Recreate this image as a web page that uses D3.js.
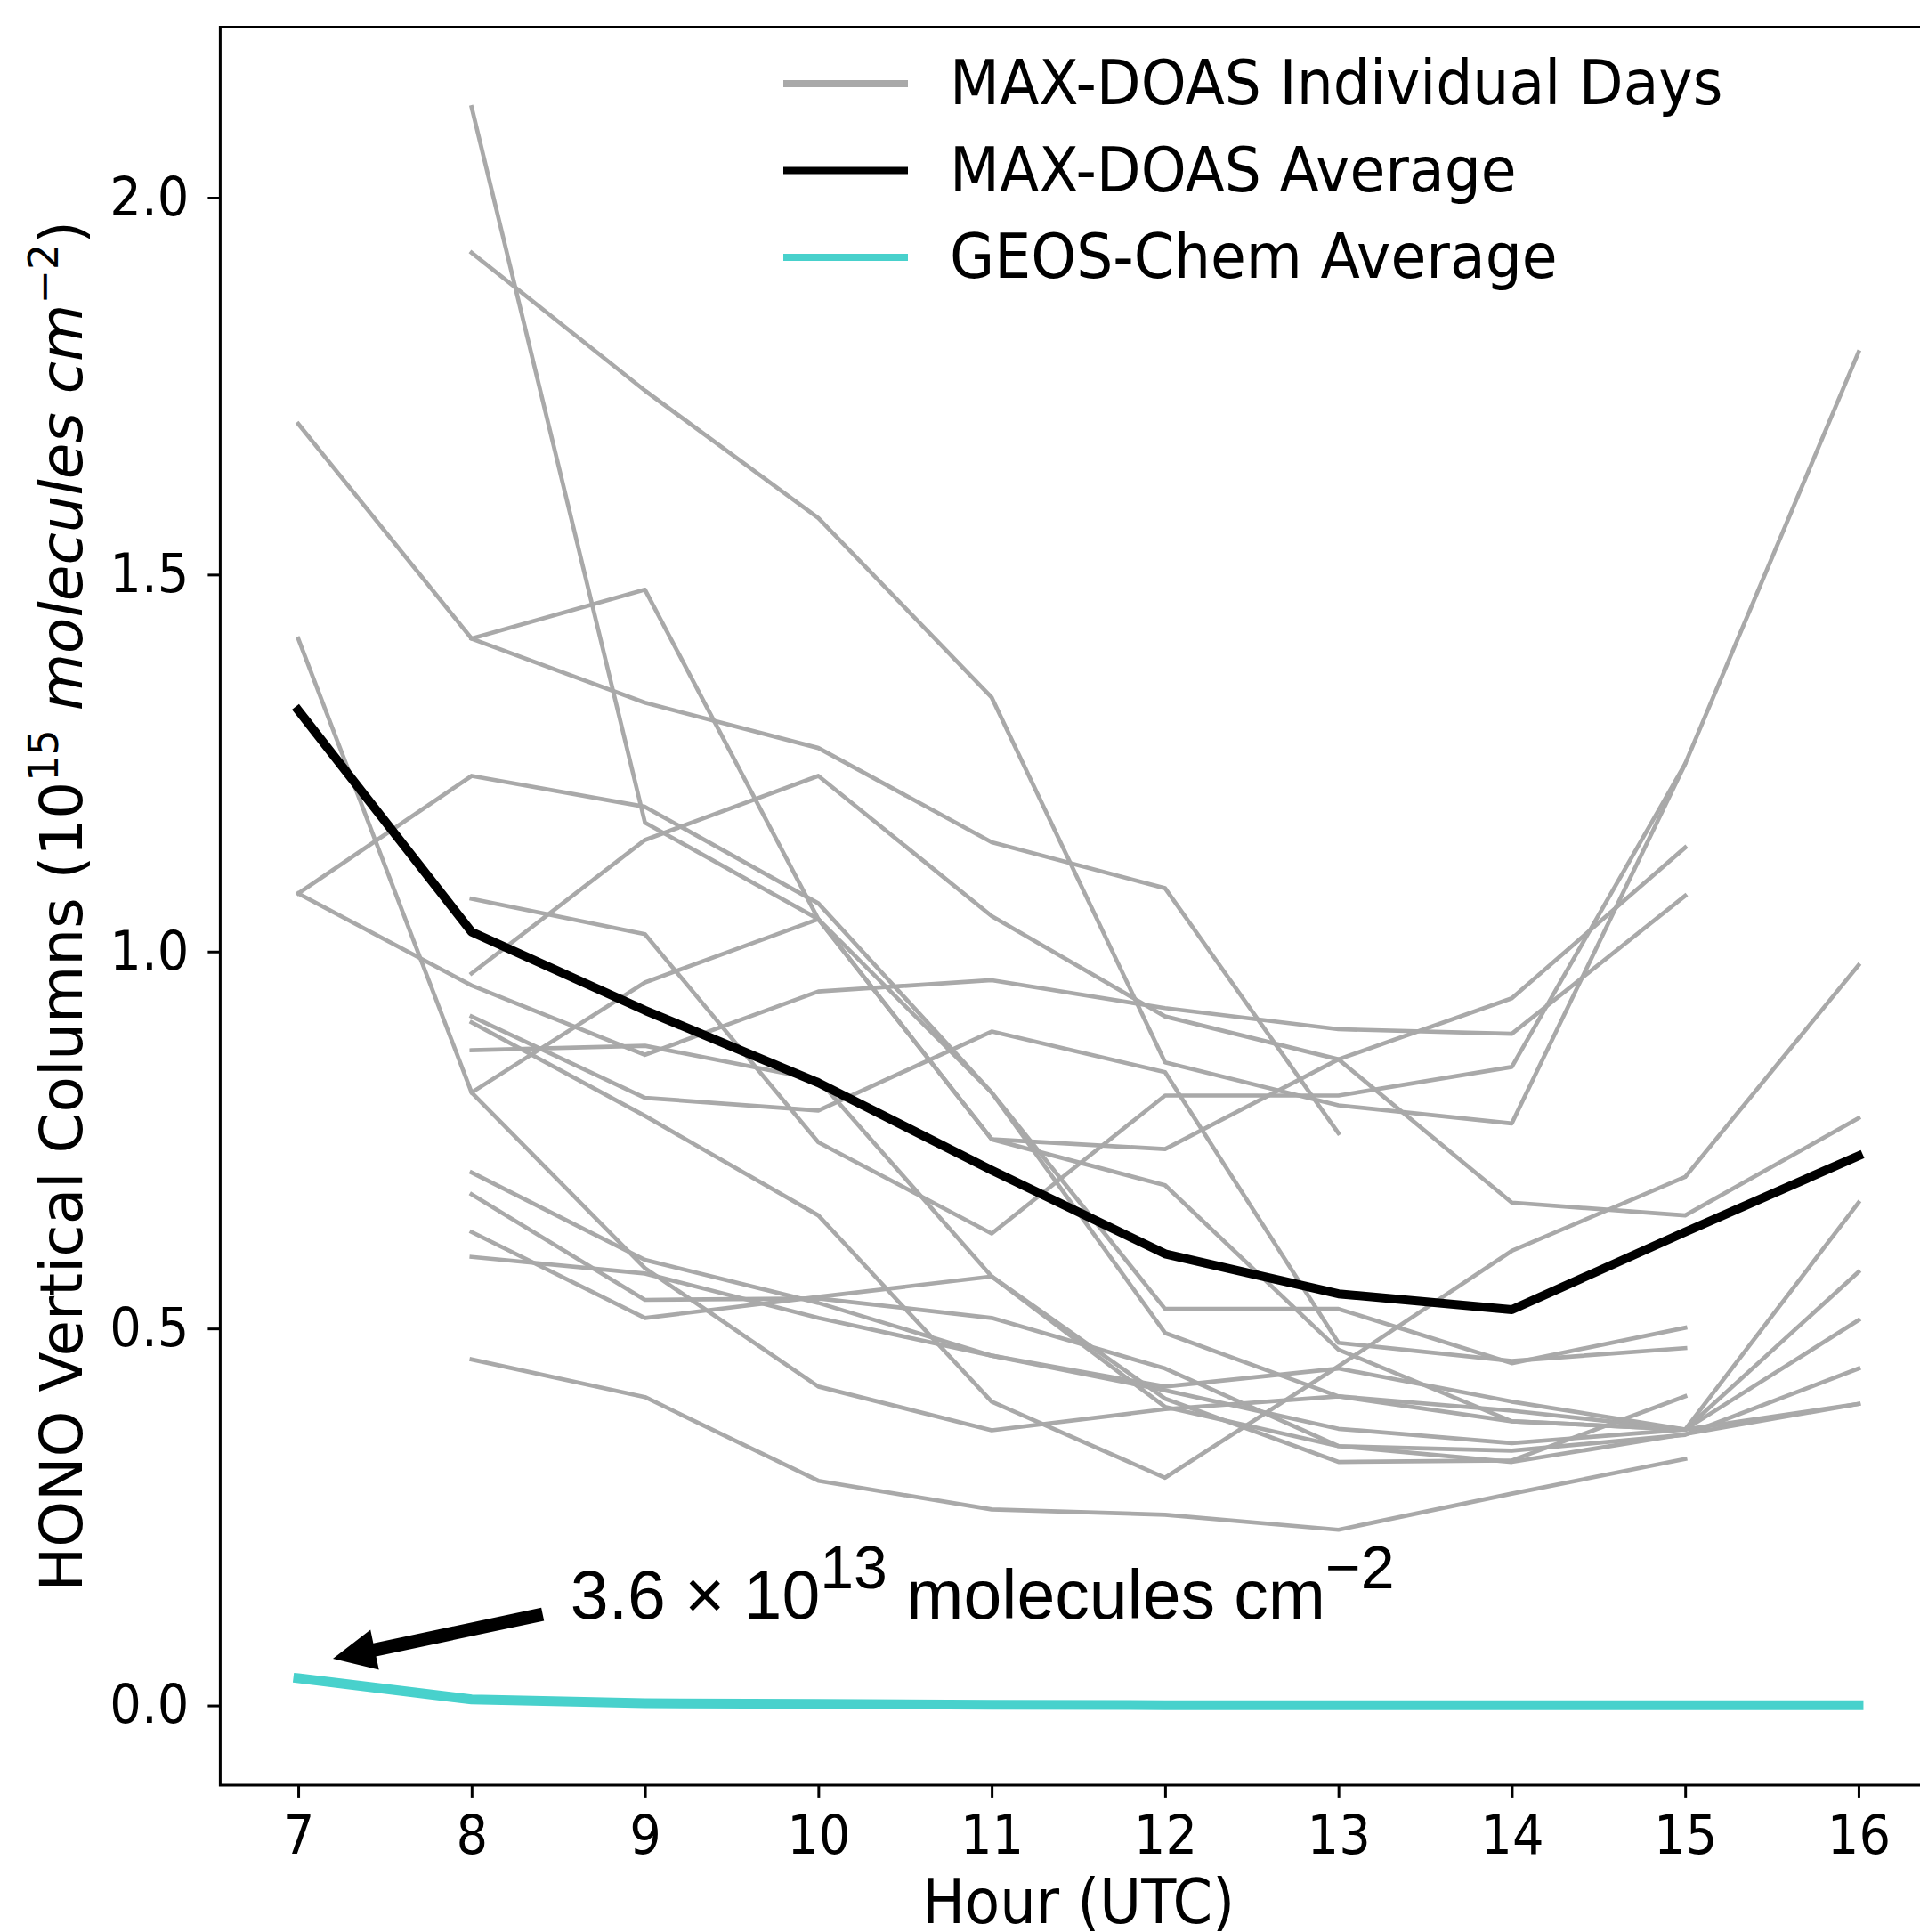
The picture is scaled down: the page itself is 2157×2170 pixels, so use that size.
<!DOCTYPE html>
<html><head><meta charset="utf-8">
<script src="https://cdn.jsdelivr.net/npm/d3@7"></script>
<style>body{margin:0;background:#fff}</style>
</head><body>
<svg id="chart" width="2157" height="2170" xmlns="http://www.w3.org/2000/svg"></svg>
<script>
// ---- data ----
const hours = [7, 8, 9, 10, 11, 12, 13, 14, 15, 16];
const dayA = [null, 2.120, 1.171, 1.043, 0.751, 0.690, 0.472, 0.377, 0.366, 0.667];
const dayB = [1.700, 1.415, 1.480, 1.043, 0.751, 0.738, 0.857, 0.938, 1.138, null];
const dayC = [1.077, 1.233, 1.192, 1.064, 0.813, 0.526, 0.526, 0.454, 0.501, null];
const dayD = [null, 1.415, 1.330, 1.270, 1.145, 1.084, 0.759, null, null, null];
const dayE = [null, 1.927, 1.744, 1.575, 1.337, 0.853, 0.796, 0.772, 1.249, 1.795];
const dayF = [null, 0.971, 1.148, 1.233, 1.047, 0.914, 0.857, 0.667, 0.650, 0.779];
const dayG = [1.077, 0.955, 0.863, 0.947, 0.962, 0.925, 0.897, 0.891, 1.074, null];
const dayH = [null, 1.070, 1.023, 0.747, 0.626, 0.809, 0.809, 0.847, 1.249, null];
const dayI = [null, 0.869, 0.875, 0.830, 0.569, 0.396, 0.344, 0.338, 0.359, 0.447];
const dayJ = [null, 0.906, 0.782, 0.650, 0.403, 0.302, 0.450, 0.603, 0.701, 0.982];
const dayK = [1.415, 0.813, 0.580, 0.423, 0.365, 0.393, 0.410, 0.377, 0.366, null];
const dayL = [null, 0.813, 0.959, 1.043, 0.813, 0.494, 0.410, 0.391, 0.366, 0.575];
const dayM = [null, 0.914, 0.806, 0.789, 0.894, 0.840, 0.481, 0.457, 0.474, null];
const dayN = [null, 0.707, 0.591, 0.534, 0.464, 0.418, 0.367, 0.348, 0.366, 0.511];
const dayO = [null, 0.678, 0.538, 0.540, 0.514, 0.447, 0.344, 0.323, 0.360, 0.400];
const dayP = [null, 0.628, 0.514, 0.542, 0.569, 0.407, 0.323, 0.325, 0.410, null];
const dayQ = [null, 0.595, 0.573, 0.514, 0.464, 0.423, 0.447, 0.403, 0.366, 0.400];
const dayR = [null, 0.459, 0.409, 0.298, 0.260, 0.253, 0.233, 0.281, 0.327, null];
const individualDays = [dayA, dayB, dayC, dayD, dayE, dayF, dayG, dayH, dayI,
                        dayJ, dayK, dayL, dayM, dayN, dayO, dayP, dayQ, dayR];
const maxDoasAverage = [1.320, 1.026, 0.922, 0.826, 0.710, 0.599, 0.546, 0.525, 0.628, 0.729];
const geosChemAverage = [0.036, 0.008, 0.003, 0.002, 0.001, 0.0005, 0.0005, 0.0005, 0.0005, 0.0005];
const yTickValues = [0.0, 0.5, 1.0, 1.5, 2.0];
const xTickValues = [7, 8, 9, 10, 11, 12, 13, 14, 15, 16];
const legendLabels = ["MAX-DOAS Individual Days", "MAX-DOAS Average", "GEOS-Chem Average"];
const annotationPoint = [7.2, 0.062];
const annotationTail = [8.41, 0.121];
const annotationTextPos = [8.57, 0.1153];

// ---- drawing ----
const svg = d3.select('#chart');
const FONT = "'DejaVu Sans', sans-serif";
const GRAY = '#a9a9a9', TEAL = '#48d1cc';
const TEXT_STRETCH = 1.08;

const x = d3.scaleLinear().domain([6.55, 16.45]).range([247.4, 2175.6]);
const y = d3.scaleLinear().domain([-0.1055, 2.226]).range([2004.9, 30.6]);

svg.append('rect').attr('width', 2157).attr('height', 2170).attr('fill', '#fff');

const line = d3.line()
  .defined(d => d[1] != null)
  .x(d => x(d[0])).y(d => y(d[1]));

const plot = svg.append('g');
individualDays.forEach(vals => {
  plot.append('path')
    .datum(hours.map((h, i) => [h, vals[i]]))
    .attr('d', line)
    .attr('fill', 'none').attr('stroke', GRAY).attr('stroke-width', 4.7)
    .attr('stroke-linecap', 'square').attr('stroke-linejoin', 'round');
});
plot.append('path')
  .datum(hours.map((h, i) => [h, maxDoasAverage[i]]))
  .attr('d', line).attr('fill', 'none').attr('stroke', '#000')
  .attr('stroke-width', 10).attr('stroke-linecap', 'square').attr('stroke-linejoin', 'round');
plot.append('path')
  .datum(hours.map((h, i) => [h, geosChemAverage[i]]))
  .attr('d', line).attr('fill', 'none').attr('stroke', TEAL)
  .attr('stroke-width', 11).attr('stroke-linecap', 'square').attr('stroke-linejoin', 'round');

// axes
const xAxis = d3.axisBottom(x).tickValues(xTickValues).tickFormat(d3.format('d'))
  .tickSize(14).tickSizeOuter(0).tickPadding(18);
const gx = svg.append('g').attr('transform', `translate(0,${y.range()[0]})`).call(xAxis);
const yAxis = d3.axisLeft(y).tickValues(yTickValues).tickFormat(d3.format('.1f'))
  .tickSize(14).tickSizeOuter(0).tickPadding(21);
const gy = svg.append('g').attr('transform', `translate(${x.range()[0]},0)`).call(yAxis);
[gx, gy].forEach(g => {
  g.select('.domain').remove();
  g.selectAll('.tick line').attr('stroke', '#000').attr('stroke-width', 3);
  g.selectAll('.tick text').attr('font-family', FONT).attr('font-size', 56).attr('fill', '#000')
    .attr('transform', `scale(1,${TEXT_STRETCH})`);
});

// spines
const [x0, x1] = x.range(), [yb, yt] = y.range();
svg.append('path')
  .attr('d', `M${x1},${yt}H${x0}V${yb}H${x1}`)
  .attr('fill', 'none').attr('stroke', '#000').attr('stroke-width', 3)
  .attr('stroke-linecap', 'square');

// axis labels
svg.append('text')
  .attr('transform', `translate(${(x0 + x1) / 2},2160) scale(1,${TEXT_STRETCH})`)
  .attr('text-anchor', 'middle').attr('font-family', FONT).attr('font-size', 64)
  .text('Hour (UTC)');

const yl = svg.append('text')
  .attr('transform', `translate(92,${(yb + yt) / 2}) rotate(-90)`)
  .attr('text-anchor', 'middle').attr('font-family', FONT).attr('font-size', 66);
yl.append('tspan').text('HONO Vertical Columns (10');
yl.append('tspan').attr('dy', -27).attr('font-size', 46).text('15');
yl.append('tspan').attr('dy', 27).attr('font-style', 'italic').text('\u00a0molecules\u00a0cm');
yl.append('tspan').attr('dy', -27).attr('font-size', 46).text('\u22122');
yl.append('tspan').attr('dy', 27).text(')');

// legend
const legendColors = [GRAY, '#000', TEAL];
const lg = svg.append('g').attr('transform', 'translate(880,94)');
legendLabels.forEach((lab, i) => {
  const row = lg.append('g').attr('transform', `translate(0,${i * 97.5})`);
  row.append('line').attr('x1', 0).attr('x2', 140).attr('y1', 0).attr('y2', 0)
    .attr('stroke', legendColors[i]).attr('stroke-width', 8);
  row.append('text').attr('transform', `translate(187,23) scale(1,${TEXT_STRETCH})`)
    .attr('font-family', FONT).attr('font-size', 64.8).text(lab);
});

// annotation arrow
const tip = [x(annotationPoint[0]), y(annotationPoint[1])];
const tail = [x(annotationTail[0]), y(annotationTail[1])];
const dxA = tip[0] - tail[0], dyA = tip[1] - tail[1];
const len = Math.hypot(dxA, dyA);
const ux = dxA / len, uy = dyA / len, px = -uy, py = ux;
const shaftW = 15, headW = 46, headL = 48;
const bx = tip[0] - ux * headL, by = tip[1] - uy * headL;
const pts = [
  [tail[0] + px * shaftW / 2, tail[1] + py * shaftW / 2],
  [bx + px * shaftW / 2, by + py * shaftW / 2],
  [bx + px * headW / 2, by + py * headW / 2],
  tip,
  [bx - px * headW / 2, by - py * headW / 2],
  [bx - px * shaftW / 2, by - py * shaftW / 2],
  [tail[0] - px * shaftW / 2, tail[1] - py * shaftW / 2]
];
svg.append('polygon').attr('points', pts.map(p => p.join(',')).join(' ')).attr('fill', '#000');

const ann = svg.append('text')
  .attr('x', x(annotationTextPos[0])).attr('y', y(annotationTextPos[1]))
  .attr('font-family', "'Liberation Sans', Arial, sans-serif").attr('font-size', 77);
ann.append('tspan').text('3.6 \u00d7 10');
ann.append('tspan').attr('dy', -34).attr('font-size', 68).text('13');
ann.append('tspan').attr('dy', 34).text('\u00a0molecules cm');
ann.append('tspan').attr('dy', -34).attr('font-size', 68).text('\u22122');
</script>
</body></html>
